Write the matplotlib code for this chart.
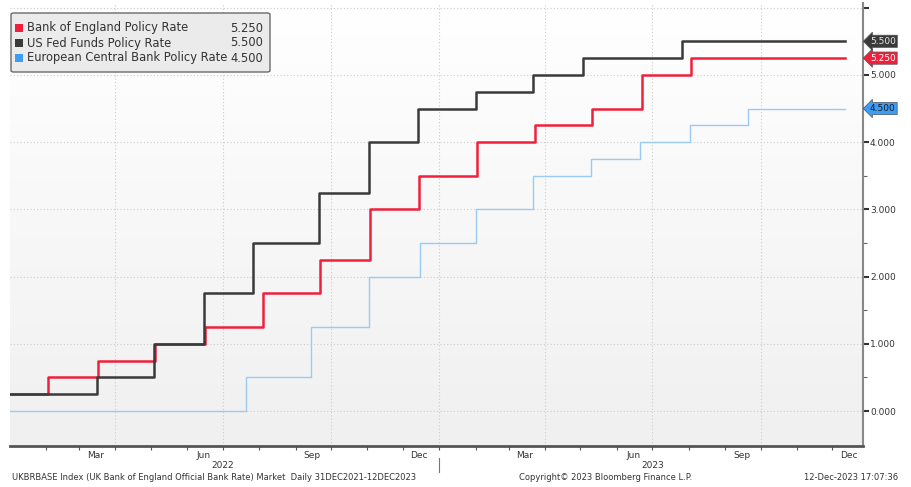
import datetime
import numpy as np
import matplotlib
matplotlib.use("Agg")
import matplotlib.pyplot as plt
import matplotlib.dates as mdates
import matplotlib.transforms as mtransforms
from matplotlib.patches import FancyBboxPatch

# policy rate changes (step series, value holds until next date)
boe_dates = ["2021-12-31", "2022-02-03", "2022-03-17", "2022-05-05", "2022-06-16", "2022-08-04",
             "2022-09-22", "2022-11-03", "2022-12-15", "2023-02-02", "2023-03-23", "2023-05-11",
             "2023-06-22", "2023-08-03", "2023-12-12"]
boe_rates = [0.25, 0.5, 0.75, 1.0, 1.25, 1.75, 2.25, 3.0, 3.5, 4.0, 4.25, 4.5, 5.0, 5.25, 5.25]

fed_dates = ["2021-12-31", "2022-03-16", "2022-05-04", "2022-06-15", "2022-07-27", "2022-09-21",
             "2022-11-02", "2022-12-14", "2023-02-01", "2023-03-22", "2023-05-03", "2023-07-26",
             "2023-12-12"]
fed_rates = [0.25, 0.5, 1.0, 1.75, 2.5, 3.25, 4.0, 4.5, 4.75, 5.0, 5.25, 5.5, 5.5]

ecb_dates = ["2021-12-31", "2022-07-21", "2022-09-14", "2022-11-02", "2022-12-16", "2023-02-01",
             "2023-03-22", "2023-05-10", "2023-06-21", "2023-08-02", "2023-09-20", "2023-12-12"]
ecb_rates = [0.0, 0.5, 1.25, 2.0, 2.5, 3.0, 3.5, 3.75, 4.0, 4.25, 4.5, 4.5]

names = ["Bank of England Policy Rate", "US Fed Funds Policy Rate", "European Central Bank Policy Rate"]
line_colors = ["#f0203c", "#3a3a3a", "#9ccbf2"]
box_colors = ["#f0203c", "#3a3a3a", "#3d9cf5"]
tag_text = ["white", "#e6e6e6", "#1a1a1a"]
widths = [1.8, 1.8, 1.0]

month_labels = ["2022-03-15", "2022-06-15", "2022-09-15", "2022-12-15",
                "2023-03-15", "2023-06-15", "2023-09-15", "2023-12-15"]
year_labels = [("2022-07-01", "2022"), ("2023-07-01", "2023")]


def d(s):
    return datetime.datetime.strptime(s, "%Y-%m-%d")


series = [(boe_dates, boe_rates), (fed_dates, fed_rates), (ecb_dates, ecb_rates)]

plt.rcParams['font.family'] = ['DejaVu Sans']
W, H = 911, 487
fig = plt.figure(figsize=(W / 100, H / 100), dpi=100)
fig.patch.set_facecolor("white")
ax = fig.add_axes([10 / W, 1 - 446 / H, (863 - 10) / W, (446 - 3) / H])

# soft background gradient, white at the top, light grey at the bottom
grad = np.linspace(0, 1, 100).reshape(-1, 1)
ax.imshow(grad, cmap=matplotlib.colors.LinearSegmentedColormap.from_list("bg", ["#ffffff", "#f0f0f0"]),
          extent=[0, 1, 0, 1], transform=ax.transAxes, aspect="auto", zorder=0)

for (ds, vs), c, lw in zip(series, line_colors, widths):
    ax.plot([d(x) for x in ds], vs, drawstyle="steps-post", color=c, lw=lw, zorder=3)

ax.set_xlim(d("2021-12-30") + datetime.timedelta(days=2.5), d("2023-12-27"))
ax.set_ylim(-0.52, 6.07)

ax.yaxis.tick_right()
ax.set_yticks(np.arange(0, 6.01, 1.0))
ax.set_yticks(np.arange(0.5, 6.01, 1.0), minor=True)
ax.yaxis.set_major_formatter(matplotlib.ticker.FormatStrFormatter("%.3f"))
ax.tick_params(axis="y", which="major", length=4, width=1.5, color="#333333", labelsize=6.5,
               labelcolor="#333333", pad=1)
ax.tick_params(axis="y", which="minor", length=3, width=0.8, color="#666666")
ax.yaxis.set_ticklabels([], minor=True)
# hide the 6.000 label like the original
for lab in ax.get_yticklabels():
    if lab.get_text().startswith("6"):
        lab.set_visible(False)

ax.xaxis.set_major_locator(mdates.MonthLocator(bymonth=(1, 4, 7, 10)))
ax.xaxis.set_minor_locator(mdates.MonthLocator())
ax.xaxis.set_major_formatter(matplotlib.ticker.NullFormatter())
ax.tick_params(axis="x", which="both", length=3, width=0.8, color="#555555")

ax.grid(True, which="major", color="#cccccc", lw=0.8, linestyle=(0, (1, 2)))

for s in ["top", "left"]:
    ax.spines[s].set_visible(False)
ax.spines["bottom"].set_color("#555555")
ax.spines["bottom"].set_linewidth(2)
ax.spines["right"].set_color("#888888")
ax.spines["right"].set_linewidth(1.5)

blend = mtransforms.blended_transform_factory(ax.transData, fig.transFigure)
for m in month_labels:
    ax.text(d(m), 1 - 455 / H, d(m).strftime("%b"), transform=blend, ha="center", va="center",
            fontsize=6.5, color="#333333")
for m, y in year_labels:
    ax.text(d(m), 1 - 465 / H, y, transform=blend, ha="center", va="center",
            fontsize=6.5, color="#333333")
ax.plot([d("2023-01-01")] * 2, [1 - 458 / H, 1 - 472 / H], transform=blend, color="#777777",
        lw=0.8, clip_on=False)

# end-value tags on the right axis
tblend = mtransforms.blended_transform_factory(ax.transAxes, ax.transData)
for (ds, vs), c, tc in zip(series, box_colors, tag_text):
    ax.text(1.008, vs[-1], f"{vs[-1]:.3f}", transform=tblend, ha="left", va="center",
            fontsize=6.5, color=tc, zorder=5,
            bbox=dict(boxstyle="larrow,pad=0.18", fc=c, ec="#555555", lw=0.5))

# legend box
lx0, ly0, lx1, ly1 = 11, 13, 270, 72
fig.patches.append(FancyBboxPatch((lx0 / W, 1 - ly1 / H), (lx1 - lx0) / W, (ly1 - ly0) / H,
                                  boxstyle="round,pad=0,rounding_size=0.003", transform=fig.transFigure,
                                  fc="#ebebeb", ec="#6a6a6a", lw=1.0, zorder=10))
rows = [28, 43, 58]
for (ds, vs), name, c, ry in zip(series, names, box_colors, rows):
    fig.patches.append(FancyBboxPatch((15 / W, 1 - (ry + 4) / H), 8 / W, 8 / H, boxstyle="square,pad=0",
                                      transform=fig.transFigure, fc=c, ec="none", zorder=11))
    fig.text(27 / W, 1 - ry / H, name, ha="left", va="center", fontsize=8.3, color="#333333", zorder=12)
    fig.text(263 / W, 1 - ry / H, f"{vs[-1]:.3f}", ha="right", va="center", fontsize=8.3,
             color="#333333", zorder=12)

# footer
fig.text(12 / W, 1 - 478 / H,
         "UKBRBASE Index (UK Bank of England Official Bank Rate) Market  Daily 31DEC2021-12DEC2023",
         ha="left", va="center", fontsize=6, color="#333333")
fig.text(519 / W, 1 - 478 / H, "Copyright\u00a9 2023 Bloomberg Finance L.P.", ha="left", va="center",
         fontsize=6, color="#333333")
fig.text(898 / W, 1 - 478 / H, "12-Dec-2023 17:07:36", ha="right", va="center", fontsize=6,
         color="#333333")

fig.savefig("out.png", dpi=100)
